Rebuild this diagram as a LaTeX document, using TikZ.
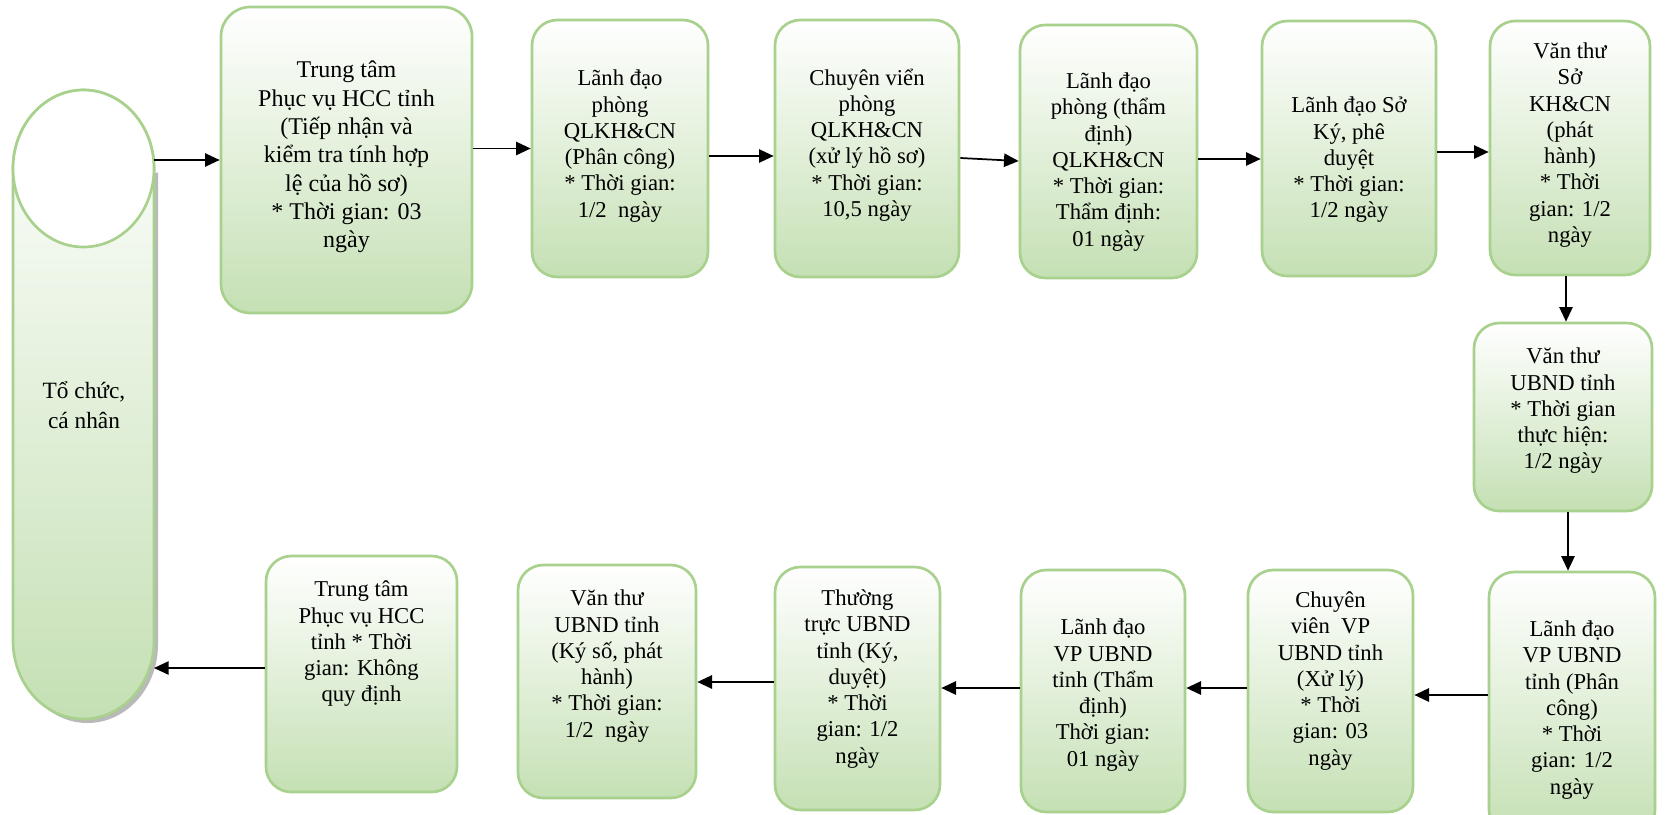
\documentclass[tikz,border=0pt]{standalone}
\usepackage{fontspec}
\setmainfont{Liberation Serif}
\usetikzlibrary{arrows.meta,calc}
\definecolor{gborder}{HTML}{A9D18E}
\definecolor{gfill}{HTML}{C5E0B4}
\begin{document}
\begin{tikzpicture}[x=0.75pt,y=0.75pt,
  box/.style={draw=gborder, line width=2pt, rounded corners=19pt, top color=white, bottom color=gfill, inner sep=0pt},
  txt/.style={align=center, font=\fontsize{17}{19.7}\selectfont, inner sep=0pt},
  arr/.style={line width=1.3pt, -{Triangle[length=11pt,width=10pt]}}]
\useasboundingbox (0,0) rectangle (1670,-814);
\fill[white] (0,0) rectangle (1670,-814);
\clip (0,0) rectangle (1670,-814);

% cylinder "To chuc, ca nhan"
\fill[gray!55, shift={(4,-4)}] (13,-168.5) -- (13,-640.5) arc[start angle=180,end angle=360,x radius=70.5,y radius=78.5] -- (154,-168.5) -- cycle;
\path[top color=white, bottom color=gfill, draw=gborder, line width=2pt] (13,-168.5) -- (13,-640.5) arc[start angle=180,end angle=360,x radius=70.5,y radius=78.5] -- (154,-168.5) arc[start angle=0,end angle=180,x radius=70.5,y radius=78.5] -- cycle;
\path[draw=gborder, fill=white, line width=2pt] (83.5,-168.5) ellipse[x radius=70.5, y radius=78.5];
\node[minimum width=141*0.75pt, minimum height=629*0.75pt, inner sep=0pt, outer sep=0pt] (cyl) at (83.5,-404.5) {};
\node[txt, font=\fontsize{17.5}{22}\selectfont] (tcyl) at (84,-405) {Tổ chức,\\cá nhân};

% top row
\node[box, rounded corners=22pt, minimum width=251*0.75pt, minimum height=306*0.75pt] (A) at (346.5,-160) {};
\node[txt, font=\fontsize{18}{21.2}\selectfont] (tA) at (346.5,-157) {Trung tâm\\Phục vụ HCC tỉnh\\(Tiếp nhận và\\kiểm tra tính hợp\\lệ của hồ sơ)\\* Thời gian: 03\\ngày};

\node[box, minimum width=176*0.75pt, minimum height=257*0.75pt] (B) at (620,-148.5) {};
\node[txt] (tB) at (620,-146) {Lãnh đạo\\phòng\\QLKH\&CN\\(Phân công)\\* Thời gian:\\1/2~~ngày};

\node[box, minimum width=184*0.75pt, minimum height=257*0.75pt] (C) at (867,-148.5) {};
\node[txt] (tC) at (867,-145) {Chuyên viển\\phòng\\QLKH\&CN\\(xử lý hồ sơ)\\* Thời gian:\\10,5 ngày};

\node[box, minimum width=177*0.75pt, minimum height=253*0.75pt] (D) at (1108.5,-151.5) {};
\node[txt] (tD) at (1108.5,-162) {Lãnh đạo\\phòng (thẩm\\định)\\QLKH\&CN\\* Thời gian:\\Thẩm định:\\01 ngày};

\node[box, minimum width=174*0.75pt, minimum height=255*0.75pt] (E) at (1349,-148.5) {};
\node[txt] (tE) at (1349,-160) {Lãnh đạo Sở\\Ký, phê\\duyệt\\* Thời gian:\\1/2 ngày};

\node[box, minimum width=160*0.75pt, minimum height=254*0.75pt] (F) at (1570,-148) {};
\node[txt] (tF) at (1570,-145) {Văn thư\\Sở\\KH\&CN\\(phát\\hành)\\* Thời\\gian: 1/2\\ngày};

% right column
\node[box, minimum width=178*0.75pt, minimum height=188*0.75pt] (G) at (1563,-417) {};
\node[txt] (tG) at (1563,-411) {Văn thư\\UBND tỉnh\\* Thời gian\\thực hiện:\\1/2 ngày};

% bottom row
\node[box, minimum width=166*0.75pt, minimum height=263*0.75pt] (H) at (1572,-703.5) {};
\node[txt] (tH) at (1572,-710) {Lãnh đạo\\VP UBND\\tỉnh (Phân\\công)\\* Thời\\gian: 1/2\\ngày};

\node[box, minimum width=165*0.75pt, minimum height=242*0.75pt] (I) at (1330.5,-691) {};
\node[txt] (tI) at (1330.5,-681) {Chuyên\\viên~~VP\\UBND tỉnh\\(Xử lý)\\* Thời\\gian: 03\\ngày};

\node[box, minimum width=164*0.75pt, minimum height=242*0.75pt] (J) at (1103,-691) {};
\node[txt] (tJ) at (1103,-695) {Lãnh đạo\\VP UBND\\tỉnh (Thẩm\\định)\\Thời gian:\\01 ngày};

\node[box, minimum width=165*0.75pt, minimum height=243*0.75pt] (K) at (857.5,-688.5) {};
\node[txt] (tK) at (857.5,-679) {Thường\\trực UBND\\tỉnh (Ký,\\duyệt)\\* Thời\\gian: 1/2\\ngày};

\node[box, minimum width=178*0.75pt, minimum height=233*0.75pt] (L) at (607,-681.5) {};
\node[txt] (tL) at (607,-666) {Văn thư\\UBND tỉnh\\(Ký số, phát\\hành)\\* Thời gian:\\1/2~~ngày};

\node[box, minimum width=191*0.75pt, minimum height=236*0.75pt] (M) at (361.5,-674) {};
\node[txt] (tM) at (361.5,-644) {Trung tâm\\Phục vụ HCC\\tỉnh * Thời\\gian: Không\\quy định};

% connectors
\draw[arr] (cyl.east |- A.west) -- (A.west);
\draw[arr] (A.east |- B.west) -- (B.west);
\draw[arr] ($(B.east)+(0,-7.5)$) -- ($(C.west)+(0,-7.5)$);
\draw[arr] ($(C.east)+(0,-9.5)$) -- ($(D.west)+(0,-9.5)$);
\draw[arr] ($(D.east)+(0,-7.5)$) -- ($(E.west)+(0,-10.5)$);
\draw[arr] ($(E.east)+(0,-3.5)$) -- ($(F.west)+(0,-4)$);
\draw[arr] ($(F.south)+(-4,0)$) -- ($(G.north)+(3,0)$);
\draw[arr] ($(G.south)+(5,0)$) -- ($(H.north)+(-4,0)$);
\draw[arr] ($(H.west)+(0,8.5)$) -- ($(I.east)+(0,-4)$);
\draw[arr] ($(I.west)+(0,3)$) -- ($(J.east)+(0,3)$);
\draw[arr] ($(J.west)+(0,3)$) -- ($(K.east)+(0,0.5)$);
\draw[arr] ($(K.west)+(0,6.5)$) -- ($(L.east)+(0,-0.5)$);
\draw[arr] ($(M.west)+(0,6)$) -- ($(cyl.east)+(0,-263.5)$);
\end{tikzpicture}
\end{document}
